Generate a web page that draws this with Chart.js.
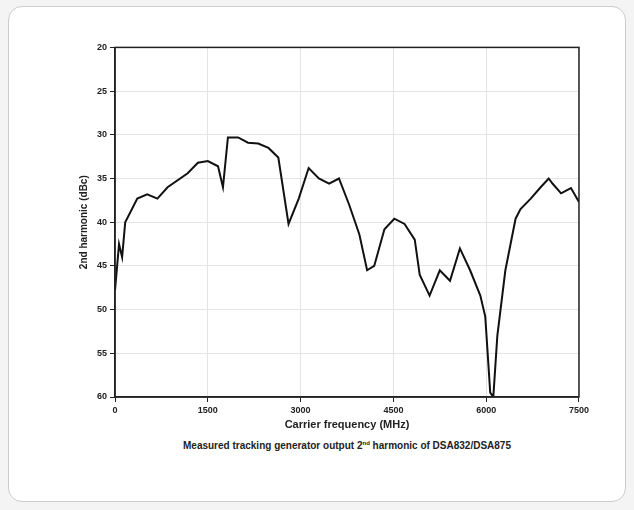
<!DOCTYPE html>
<html><head><meta charset="utf-8">
<script src="https://cdn.jsdelivr.net/npm/chart.js@4"></script>
<style>
body{margin:0;background:#f4f4f4;font-family:"Liberation Sans",Arial,sans-serif}
#card{position:absolute;left:8px;top:6px;width:616px;height:494px;background:#fff;border:1px solid #ccc;border-radius:14px}
#wrap{position:absolute;left:74px;top:39px;width:518px;height:397px}
#cap{position:absolute;left:0;width:694px;top:440px;text-align:center;font-size:10px;font-weight:bold;color:#222}
</style></head><body>
<div id="card"></div>
<div id="wrap"><canvas id="c"></canvas></div>
<div id="cap">Measured tracking generator output 2<sup style="font-size:6px">nd</sup> harmonic of DSA832/DSA875</div>
<script>
const freq = [0,65,115,165,360,520,685,850,1175,1340,1500,1665,1745,1825,1990,2150,2315,2480,2640,2805,2970,3130,3295,3460,3620,3785,3950,4075,4190,4355,4515,4680,4845,4925,5085,5250,5415,5575,5740,5905,5985,6065,6115,6180,6310,6475,6555,6720,6880,7010,7075,7210,7370,7500];
const harm = [47.8,42.5,44,40,37.3,36.8,37.3,36,34.4,33.2,33,33.6,36,30.3,30.3,30.9,31,31.5,32.6,40.2,37.3,33.8,35,35.6,35,38,41.4,45.5,45,40.8,39.6,40.2,42,46,48.4,45.5,46.7,43,45.5,48.4,50.8,59.5,60,53,45.5,39.6,38.5,37.3,36,35,35.6,36.7,36.1,37.7];
const xTicks = [0,1500,3000,4500,6000,7500];
const yTicks = [20,25,30,35,40,45,50,55,60];
const frame = {id:'frame',afterDraw(ch){const a=ch.chartArea,c=ch.ctx;c.save();c.strokeStyle='#222';c.lineWidth=1.5;c.strokeRect(a.left,a.top,a.right-a.left,a.bottom-a.top);c.restore();}};
new Chart(document.getElementById('c'), {
  type: 'line',
  data: { datasets: [{ data: freq.map((f,i)=>({x:f,y:harm[i]})), borderColor:'#111', borderWidth:2, pointRadius:0, tension:0 }] },
  options: {
    responsive:true, maintainAspectRatio:false, animation:false,
    plugins:{legend:{display:false}},
    scales:{
      x:{type:'linear',min:0,max:7500,border:{color:'#222',width:1.5},
        afterBuildTicks:a=>{a.ticks=xTicks.map(v=>({value:v}));},
        grid:{color:'#e4e4e4',tickColor:'#222',tickLength:5},
        ticks:{color:'#222',font:{size:9,weight:'bold'},callback:v=>String(v)},
        title:{display:true,text:'Carrier frequency (MHz)',color:'#222',font:{size:11,weight:'bold'},padding:{top:0}}},
      y:{reverse:true,min:20,max:60,border:{color:'#222',width:1.5},
        afterBuildTicks:a=>{a.ticks=yTicks.map(v=>({value:v}));},
        grid:{color:'#e4e4e4',tickColor:'#222',tickLength:5},
        ticks:{color:'#222',font:{size:9,weight:'bold'}},
        title:{display:true,text:'2nd harmonic (dBc)',color:'#222',font:{size:10,weight:'bold'}}}
    }
  },
  plugins:[frame]
});
</script></body></html>
